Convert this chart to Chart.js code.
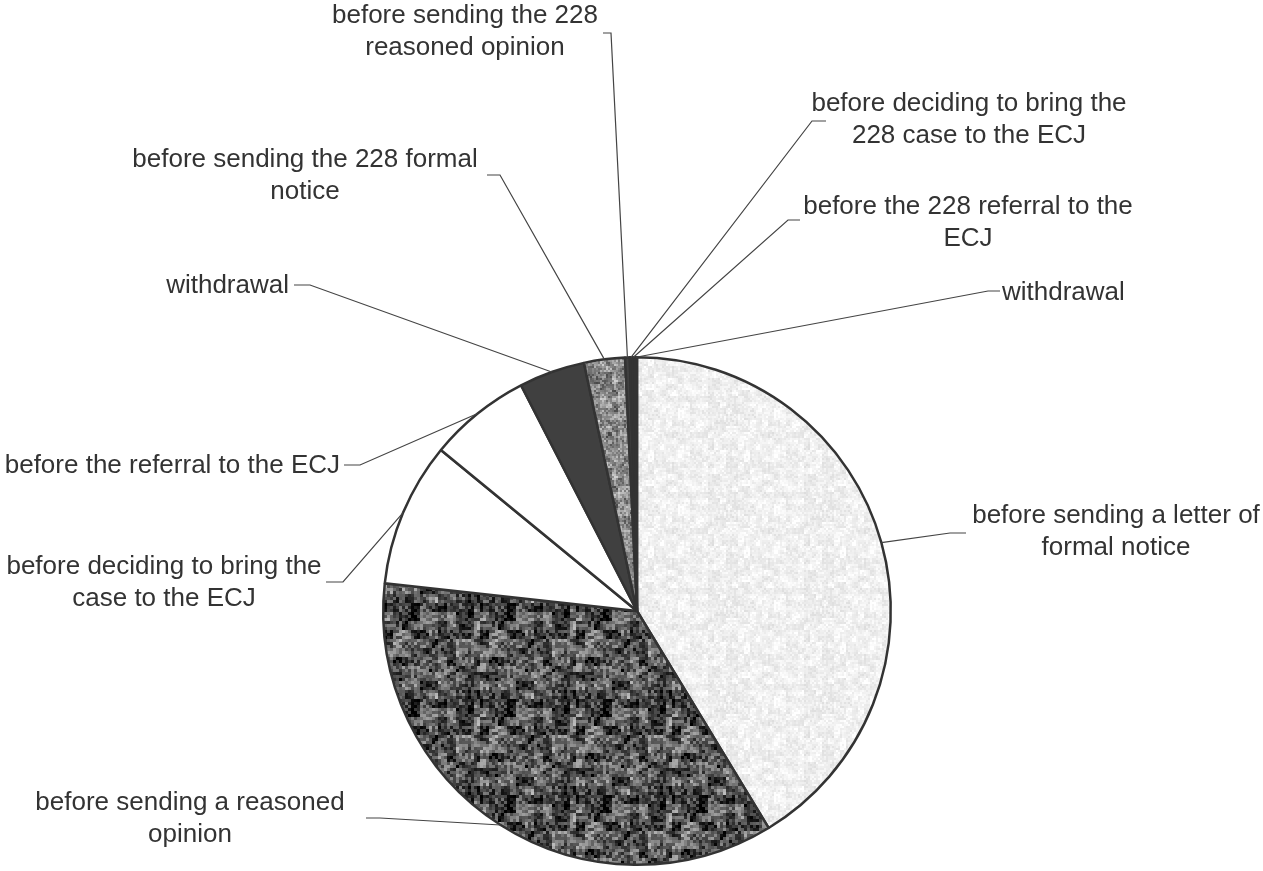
<!DOCTYPE html>
<html>
<head>
<meta charset="utf-8">
<script src="https://cdn.jsdelivr.net/npm/chart.js@4.4.1/dist/chart.umd.min.js"></script>
<style>
html,body{margin:0;padding:0;background:#fff;}
#wrap{width:1263px;height:871px;position:relative;}
</style>
</head>
<body>
<div id="wrap"><canvas id="c" width="1263" height="871"></canvas></div>
<script>
// ---- data ----
const categories = [
  "before sending a letter of formal notice",
  "before sending a reasoned opinion",
  "before deciding to bring the case to the ECJ",
  "before the referral to the ECJ",
  "withdrawal",
  "before sending the 228 formal notice",
  "before sending the 228 reasoned opinion",
  "before deciding to bring the 228 case to the ECJ",
  "before the 228 referral to the ECJ",
  "withdrawal (228)"
];
const shares = [41.3, 35.4, 9.2, 6.5, 4.2, 2.6, 0.3, 0.15, 0.15, 0.15];
const labelLines = [
  ["before sending a letter of", "formal notice"],
  ["before sending a reasoned", "opinion"],
  ["before deciding to bring the", "case to the ECJ"],
  ["before the referral to the ECJ"],
  ["withdrawal"],
  ["before sending the 228 formal", "notice"],
  ["before sending the 228", "reasoned opinion"],
  ["before deciding to bring the", "228 case to the ECJ"],
  ["before the 228 referral to the", "ECJ"],
  ["withdrawal"]
];

// ---- layout of labels (text block anchor + leader elbow) ----
const labelLayout = [
  {x:1116, y:516, align:'center', p1:[966,533], p2:[950,533]},
  {x:190,  y:803, align:'center', p1:[366,818], p2:[380,818]},
  {x:164,  y:567, align:'center', p1:[326,582], p2:[343,582]},
  {x:340,  y:466, align:'right',  p1:[344,465], p2:[360,465]},
  {x:289,  y:286, align:'right',  p1:[294,285], p2:[310,285]},
  {x:305,  y:160, align:'center', p1:[487,175], p2:[500,175]},
  {x:465,  y:16,  align:'center', p1:[603,33],  p2:[611,33]},
  {x:969,  y:104, align:'center', p1:[826,121], p2:[812,121]},
  {x:968,  y:207, align:'center', p1:[800,220], p2:[788,220]},
  {x:1002, y:293, align:'left',   p1:[1000,291], p2:[988,291]}
];

// deterministic speckle texture
function hash(x, y, s){ const v = Math.sin(x*12.9898 + y*78.233 + s*37.719)*43758.5453; return v - Math.floor(v); }
function texture(base, spread, block, seed){
  const n = 96;
  const cv = document.createElement('canvas'); cv.width = n; cv.height = n;
  const g = cv.getContext('2d');
  for (let y=0; y<n; y+=block){
    for (let x=0; x<n; x+=block){
      const h = (hash(Math.floor(x/(block*3)), Math.floor(y/(block*3)), seed)*0.5 + hash(x,y,seed+1)*0.5);
      let v = Math.round(base + (h-0.5)*spread);
      v = Math.max(0, Math.min(255, v));
      g.fillStyle = 'rgb('+v+','+v+','+v+')';
      g.fillRect(x,y,block,block);
    }
  }
  return g.createPattern(cv, 'repeat');
}

const fills = [
  texture(240, 40, 2, 1),
  texture(85, 210, 3, 2),
  '#ffffff',
  '#ffffff',
  '#404040',
  texture(140, 150, 2, 3),
  '#404040',
  '#404040',
  '#404040',
  '#404040'
];

const labelPlugin = {
  id: 'leaderLabels',
  afterDatasetsDraw(chart){
    const ctx = chart.ctx;
    const meta = chart.getDatasetMeta(0);
    ctx.save();
    ctx.font = '26px "Liberation Sans", Arial, sans-serif';
    ctx.fillStyle = '#333333';
    ctx.textBaseline = 'middle';
    meta.data.forEach((arc, i) => {
      const L = labelLayout[i];
      const mid = (arc.startAngle + arc.endAngle)/2;
      const r = arc.outerRadius;
      const ax = arc.x + Math.cos(mid)*r;
      const ay = arc.y + Math.sin(mid)*r;
      ctx.strokeStyle = '#444';
      ctx.lineWidth = 1.2;
      ctx.beginPath();
      ctx.moveTo(L.p1[0], L.p1[1]);
      ctx.lineTo(L.p2[0], L.p2[1]);
      ctx.lineTo(ax, ay);
      ctx.stroke();
      ctx.textAlign = L.align;
      labelLines[i].forEach((t, k) => {
        ctx.fillText(t, L.x, L.y + k*32);
      });
    });
    ctx.restore();
  }
};

new Chart(document.getElementById('c'), {
  type: 'pie',
  data: {
    labels: categories,
    datasets: [{
      data: shares,
      backgroundColor: fills,
      borderColor: '#333333',
      borderWidth: 2.5,
      borderAlign: 'center'
    }]
  },
  options: {
    responsive: false,
    animation: false,
    layout: { padding: { left: 382, right: 371, top: 356, bottom: 5 } },
    plugins: { legend: { display: false }, tooltip: { enabled: false } }
  },
  plugins: [labelPlugin]
});
</script>
</body>
</html>
